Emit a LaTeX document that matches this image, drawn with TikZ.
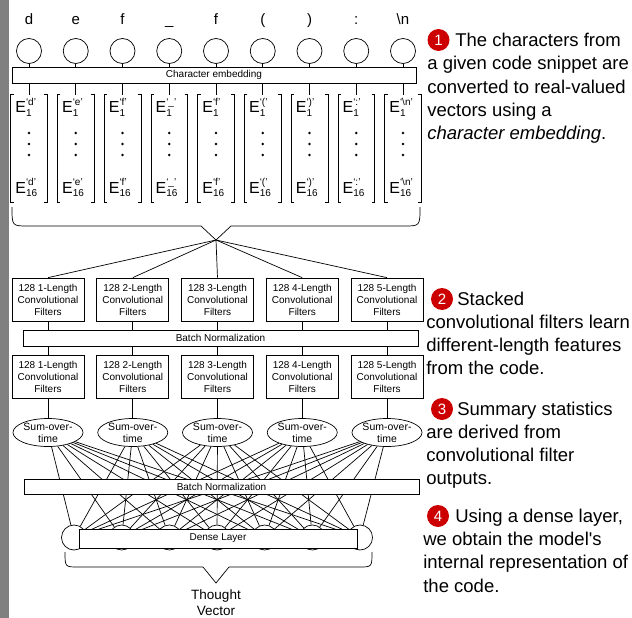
\documentclass[tikz,border=0pt]{standalone}
\usepackage{fontspec}
\setmainfont{Liberation Sans}
\usetikzlibrary{shapes.geometric}
\definecolor{stepred}{RGB}{204,0,0}
\definecolor{sidebar}{RGB}{128,128,128}
\newcommand{\fsz}[2]{\fontsize{#1}{#2}\selectfont}
\newcommand{\embval}[2]{E\rlap{\raisebox{8pt}{\fsz{10}{10}#1}}\raisebox{-3.5pt}{\fsz{10}{10}#2}}

\begin{document}
\begin{tikzpicture}[x=1pt, y=-1pt, line width=0.7pt,
    charnode/.style={circle, draw, minimum size=25pt, inner sep=0pt},
    barbox/.style={draw, fill=white, inner sep=0pt, minimum height=16pt, font=\fsz{10}{12}},
    convbox/.style={draw, fill=white, minimum width=72pt, minimum height=43pt, inner sep=0pt, align=center, font=\fsz{10}{12}},
    sumnode/.style={ellipse, draw, fill=white, minimum width=70pt, minimum height=28pt, inner sep=0pt, align=center, font=\fsz{10.5}{12}},
    densenode/.style={circle, draw, fill=white, minimum size=25pt, inner sep=0pt},
    stepdot/.style={circle, fill=stepred, text=white, minimum size=22pt, inner sep=0pt, font=\fsz{15}{15}},
    note/.style={anchor=base west, inner sep=0pt, font=\fsz{18.5}{23.3}}]

  \useasboundingbox (0,0) rectangle (632,618);
  \fill[sidebar] (0,0) rectangle (9,618);

  \node[barbox, minimum width=404pt] (emb) at (214,75) {Character embedding};
  \foreach \ch/\sp [count=\i, evaluate=\i as \x using 29+46.75*(\i-1)] in
      {d/`d', e/`e', f/`f', \_/`\_', f/`f', {(}/`(', {)}/`)', :/`:', \textbackslash n/`\textbackslash n'} {
    \node[anchor=base, font=\fsz{15}{15}] (t\i) at (\x,25) {\ch};
    \node[charnode] (c\i) at (\x,51) {};
    \node[minimum width=36pt, minimum height=107pt, inner sep=0pt] (v\i) at (\x,148.5) {};
    \draw (c\i) -- (c\i |- emb.north);
    \draw (emb.south -| v\i) -- (v\i.north);
    \draw ([xshift=3pt]v\i.north west) -- (v\i.north west) -- (v\i.south west) -- ([xshift=3pt]v\i.south west);
    \draw ([xshift=-3pt]v\i.north east) -- (v\i.north east) -- (v\i.south east) -- ([xshift=-3pt]v\i.south east);
    \node[anchor=base west, inner sep=0pt, font=\fsz{16}{16}] (ea\i) at (\x-14,113) {\embval{\sp}{1}};
    \node[anchor=base west, inner sep=0pt, font=\fsz{16}{16}] (eb\i) at (\x-14,193) {\embval{\sp}{16}};
    \foreach \dy in {133,144,155}
      \fill (\x,\dy) circle (1.4pt);
  }

  \coordinate (tip1) at (216,240);
  \draw (12,207) .. controls (12,226) .. (28,226) -- (201,226) -- (tip1) -- (231,226) -- (404,226) .. controls (420,226) .. (420,207);

  \foreach \i [evaluate=\i as \x using 48+84.75*(\i-1)] in {1,...,5} {
    \node[convbox] (ca\i) at (\x,299.5) {128 \i-Length\\Convolutional\\Filters};
    \node[convbox] (cb\i) at (\x,376.5) {128 \i-Length\\Convolutional\\Filters};
    \node[sumnode] (s\i) at (\x,432.5) {Sum-over-\\time};
    \draw (tip1) -- (ca\i.north);
    \draw (ca\i) -- (cb\i);
    \draw (cb\i) -- (s\i);
  }
  \node[barbox, minimum width=395pt] (bn1) at (220.5,338) {Batch Normalization};

  \foreach \j [evaluate=\j as \x using 74+47.67*(\j-1)] in {1,...,7}
    \node[densenode] (d\j) at (\x,537.5) {};
  \foreach \i in {1,...,5}
    \foreach \j in {1,...,7}
      \draw (s\i) -- (d\j);
  \node[barbox, minimum width=395pt, minimum height=15pt] (bn2) at (221.5,486.5) {Batch Normalization};
  \node[barbox, minimum width=278pt, minimum height=19pt] (dense) at (218,538.5) {Dense Layer};

  \coordinate (tip2) at (216,583);
  \draw (65,552) .. controls (65,567) .. (78,567) -- (203,567) -- (tip2) -- (229,567) -- (359,567) .. controls (372,567) .. (372,552);
  \node[anchor=north, inner sep=0pt, align=center, font=\fsz{13.5}{16}] (thought) at (216,589) {Thought\\Vector};

  \node[stepdot] (n1) at (438.5,40) {1};
  \node[note] (note1) at (427,46.5) {\parbox[t]{215pt}{\raggedright\hspace*{28pt}The characters from\\a given code snippet are\\converted to real-valued\\vectors using a\\\textit{character embedding}.}};
  \node[stepdot] (n2) at (442,299) {2};
  \node[note] (note2) at (426,305) {\parbox[t]{215pt}{\raggedright\hspace*{31pt}Stacked\\convolutional filters learn\\different-length features\\from the code.}};
  \node[stepdot] (n3) at (442,409) {3};
  \node[note] (note3) at (426,415) {\parbox[t]{215pt}{\raggedright\hspace*{31pt}Summary statistics\\are derived from\\convolutional filter\\outputs.}};
  \node[stepdot] (n4) at (438,516) {4};
  \node[note] (note4) at (423,522.3) {\parbox[t]{215pt}{\raggedright\hspace*{32pt}Using a dense layer,\\we obtain the model\textquotesingle s\\internal representation of\\the code.}};
\end{tikzpicture}
\end{document}
